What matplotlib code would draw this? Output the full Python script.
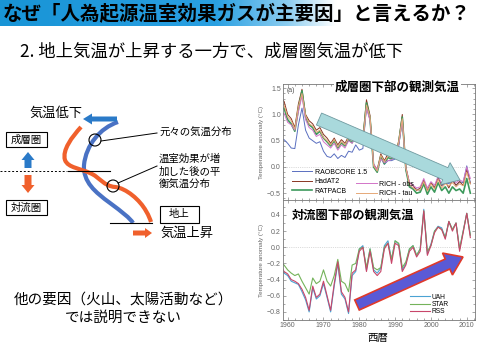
import matplotlib
matplotlib.use("Agg")
import matplotlib.pyplot as plt
import numpy as np
from matplotlib.patches import FancyArrow, Circle, Rectangle, PathPatch
from matplotlib.path import Path
from matplotlib.colors import LinearSegmentedColormap
from matplotlib.ticker import MultipleLocator

plt.rcParams['font.family'] = ['Noto Sans CJK JP', 'DejaVu Sans']

# ---- data (annual anomalies) ----
years = list(range(1958, 2012))

strat_names = ["RAOBCORE 1.5", "HadAT2", "RATPACB", "RICH - obs", "RICH - tau"]
strat_colors = ["#5a6fc0", "#8a3522", "#3d9a5c", "#d274c8", "#e6a978"]
raobcore = [0.50, 0.52, 0.45, 0.36, 0.35, 0.80, 1.12, 0.70, 0.55, 0.50,
            0.45, 0.48, 0.30, 0.20, 0.18, 0.25, 0.16, 0.22, 0.18, 0.30,
            0.28, 0.42, 0.32, 0.35, 1.15, 0.90, 0.00, -0.10, 0.18, 0.05,
            0.12, 0.12, 0.15, 0.40, 0.90, -0.05, -0.35, -0.40, -0.42, -0.45,
            -0.28, -0.45, -0.30, -0.40, -0.20, -0.36, -0.30, -0.32, -0.25, -0.35,
            -0.28, -0.30, 0.02, -0.30]
hadat2 = [1.30, 1.25, 1.00, 0.92, 0.75, 1.20, 1.48, 1.00, 0.88, 0.82,
          0.70, 0.75, 0.62, 0.55, 0.45, 0.55, 0.42, 0.52, 0.45, 0.58,
          0.52, 0.70, 0.60, 0.55, 1.28, 0.98, 0.05, -0.05, 0.25, 0.12,
          0.25, 0.20, 0.22, 0.50, 1.00, 0.00, -0.30, -0.35, -0.45, -0.40,
          -0.25, -0.45, -0.30, -0.40, -0.20, -0.35, -0.28, -0.40, -0.25, -0.35,
          -0.28, -0.35, -0.05, -0.32]
ratpacb = [1.10, 1.12, 0.90, 0.82, 0.68, 1.10, 1.45, 0.95, 0.80, 0.75,
           0.62, 0.68, 0.55, 0.48, 0.40, 0.50, 0.36, 0.46, 0.40, 0.52,
           0.46, 0.64, 0.52, 0.48, 1.22, 0.92, 0.00, -0.10, 0.20, 0.06,
           0.18, 0.15, 0.18, 0.45, 0.95, -0.05, -0.38, -0.42, -0.50, -0.48,
           -0.32, -0.52, -0.38, -0.48, -0.30, -0.45, -0.38, -0.50, -0.38, -0.45,
           -0.42, -0.50, -0.22, -0.50]
rich_obs = [1.00, 1.02, 0.85, 0.80, 0.70, 1.05, 1.35, 0.90, 0.75, 0.70,
            0.58, 0.62, 0.48, 0.42, 0.36, 0.45, 0.32, 0.42, 0.36, 0.50,
            0.45, 0.60, 0.50, 0.48, 1.12, 0.88, 0.05, -0.05, 0.15, 0.08,
            0.12, 0.14, 0.18, 0.42, 0.88, -0.02, -0.30, -0.35, -0.40, -0.38,
            -0.22, -0.40, -0.28, -0.35, -0.18, -0.32, -0.25, -0.30, -0.22, -0.30,
            -0.25, -0.28, 0.00, -0.22]
rich_tau = [1.20, 1.18, 0.95, 0.88, 0.72, 1.15, 1.40, 0.98, 0.82, 0.78,
            0.66, 0.70, 0.56, 0.50, 0.42, 0.52, 0.38, 0.48, 0.42, 0.55,
            0.50, 0.66, 0.56, 0.50, 1.18, 0.95, 0.02, -0.08, 0.22, 0.10,
            0.20, 0.18, 0.20, 0.48, 0.92, -0.02, -0.34, -0.40, -0.44, -0.44,
            -0.28, -0.46, -0.32, -0.42, -0.24, -0.40, -0.32, -0.36, -0.30, -0.38,
            -0.32, -0.36, -0.10, -0.32]

trop_names = ["UAH", "STAR", "RSS"]
trop_colors = ["#4ba3d3", "#74b35a", "#c8466a"]
uah = [-0.25, -0.32, -0.35, -0.42, -0.44, -0.46, -0.55, -0.65, -0.80, -0.50,
       -0.64, -0.60, -0.45, -0.62, -0.80, -0.48, -0.20, -0.58, -0.64, -0.82,
       -0.35, -0.30, -0.02, 0.02, -0.28, -0.02, -0.28, -0.32, -0.26, 0.02,
       0.08, -0.15, 0.08, 0.04, -0.28, -0.20, -0.02, 0.02, -0.10, -0.02,
       0.47, -0.08, 0.04, 0.20, 0.26, 0.24, 0.12, 0.32, 0.22, 0.30,
       -0.02, 0.20, 0.42, 0.15]
star = [-0.18, -0.22, -0.28, -0.32, -0.35, -0.33, -0.42, -0.50, -0.58, -0.38,
        -0.45, -0.42, -0.28, -0.42, -0.48, -0.35, -0.15, -0.42, -0.45, -0.55,
        -0.22, -0.20, -0.02, 0.00, -0.25, -0.02, -0.25, -0.28, -0.25, 0.00,
        0.05, -0.15, 0.08, 0.05, -0.25, -0.18, -0.02, 0.02, -0.10, -0.02,
        0.45, -0.05, 0.02, 0.20, 0.25, 0.22, 0.12, 0.32, 0.22, 0.30,
        -0.02, 0.20, 0.42, 0.15]
rss = [-0.22, -0.30, -0.33, -0.40, -0.42, -0.45, -0.52, -0.62, -0.78, -0.48,
       -0.62, -0.58, -0.42, -0.60, -0.78, -0.45, -0.18, -0.55, -0.62, -0.80,
       -0.32, -0.28, -0.05, 0.00, -0.30, -0.05, -0.30, -0.35, -0.30, -0.02,
       0.05, -0.20, 0.05, 0.02, -0.30, -0.22, -0.05, 0.00, -0.12, -0.05,
       0.45, -0.10, 0.02, 0.18, 0.25, 0.22, 0.10, 0.32, 0.20, 0.30,
       -0.05, 0.18, 0.42, 0.12]

strat_series = [raobcore, hadat2, ratpacb, rich_obs, rich_tau]
trop_series = [uah, star, rss]

TITLE = "なぜ「人為起源温室効果ガスが主要因」と言えるか？"
SUBTITLE = "2. 地上気温が上昇する一方で、成層圏気温が低下"

BLUE = "#4a72c4"
ARROW_BLUE = "#2a7ac8"
ORANGE = "#f0602c"

fig = plt.figure(figsize=(4.8, 3.45), dpi=100)

# background layer in pixel coordinates
bg = fig.add_axes([0, 0, 1, 1], zorder=0)
bg.set_xlim(0, 480)
bg.set_ylim(345, 0)
bg.axis("off")

# title bar gradient
cmap = LinearSegmentedColormap.from_list(
    "bar", [(0, "#1894d6"), (0.45, "#2aa0e2"), (0.6, "#8ccdf0"), (0.7, "#ffffff"), (1, "#ffffff")])
bg.imshow(np.linspace(0, 1, 256)[None, :], cmap=cmap, extent=[0, 480, 26, 0], aspect="auto")
bg.text(3, 13.5, TITLE, fontsize=14, weight="bold", va="center", ha="left")
bg.text(20, 52, SUBTITLE, fontsize=12.5, va="center", ha="left")

# schematic of temperature profile
M, C = Path.MOVETO, Path.CURVE4
blue_path = Path([(118, 122), (100, 128), (86, 145), (84, 165), (83, 182), (95, 192),
                  (110, 203), (122, 212), (130, 218), (133, 223)],
                 [M, C, C, C, C, C, C, C, C, C])
orange_path = Path([(81, 127), (72, 137), (62, 150), (65, 160), (68, 168), (80, 168),
                    (92, 174), (100, 178), (104, 186), (115, 187), (126, 188), (140, 200),
                    (146, 211), (149, 216), (150, 219), (151, 222)],
                   [M] + [C] * 15)
bg.add_patch(PathPatch(blue_path, fill=False, ec=BLUE, lw=3, capstyle="butt"))
bg.add_patch(PathPatch(orange_path, fill=False, ec=ORANGE, lw=3, capstyle="butt"))

bg.plot([0, 67], [171, 171], color="black", lw=0.7, ls=(0, (2, 2)))
bg.plot([68, 110], [171, 171], color="black", lw=0.8)
bg.plot([110, 152], [223, 223], color="black", lw=0.8)

bg.add_patch(FancyArrow(117, 119, -34, 0, width=5, head_width=11, head_length=9,
                        length_includes_head=True, color=ARROW_BLUE, lw=0))
bg.add_patch(FancyArrow(28, 168, 0, -16, width=7, head_width=13, head_length=8,
                        length_includes_head=True, color=ARROW_BLUE, lw=0))
bg.add_patch(FancyArrow(28, 175, 0, 18, width=7, head_width=13, head_length=8,
                        length_includes_head=True, color=ORANGE, lw=0))
bg.add_patch(FancyArrow(133, 233, 19, 0, width=5, head_width=10, head_length=7,
                        length_includes_head=True, color=ORANGE, lw=0))

bg.add_patch(Circle((95, 140), 6, fill=False, ec="black", lw=0.8))
bg.add_patch(Circle((113, 186), 6, fill=False, ec="black", lw=0.8))
bg.plot([101, 157], [141, 133], color="black", lw=0.7)
bg.plot([118, 157], [183, 166], color="black", lw=0.7)

for (x, y, w, h), label in [((6, 132, 41, 15), "成層圏"), ((6, 200, 41, 15), "対流圏"),
                            ((160, 206, 39, 17), "地上")]:
    bg.add_patch(Rectangle((x, y), w, h, fc="white", ec="black", lw=0.8))
    bg.text(x + w / 2, y + h / 2, label, fontsize=7.5, ha="center", va="center")

bg.text(56, 113, "気温低下", fontsize=9.5, ha="center", va="center")
bg.text(160, 233, "気温上昇", fontsize=9.5, ha="left", va="center")
bg.text(159, 133, "元々の気温分布", fontsize=7.5, ha="left", va="center")
bg.text(159, 154, "温室効果が増\n加した後の平\n衡気温分布", fontsize=7.5, ha="left", va="top",
        linespacing=1.3)

bg.text(123, 300, "他の要因（火山、太陽活動など）", fontsize=10.5, ha="center", va="center")
bg.text(123, 318, "では説明できない", fontsize=10.5, ha="center", va="center")

# ---- observed temperature charts ----
ax1 = fig.add_axes([283 / 480, 1 - 200 / 345, 192 / 480, 116 / 345], zorder=2)
ax2 = fig.add_axes([283 / 480, 1 - 320 / 345, 192 / 480, 120 / 345], zorder=2)

for name, color, vals in zip(strat_names, strat_colors, strat_series):
    ax1.plot(years, vals, color=color, lw=1.2 if name == "RATPACB" else 0.7, label=name)
for name, color, vals in zip(trop_names, trop_colors, trop_series):
    ax2.plot(years, vals, color=color, lw=0.8, label=name)

ax1.set_ylim(-0.63, 1.58)
ax2.set_ylim(-0.9, 0.585)
ax1.yaxis.set_major_locator(MultipleLocator(0.5))
ax1.yaxis.set_minor_locator(MultipleLocator(0.1))
ax2.yaxis.set_major_locator(MultipleLocator(0.2))
ax2.yaxis.set_minor_locator(MultipleLocator(0.1))
ax1.yaxis.set_major_formatter("{x:.1f}")
ax2.yaxis.set_major_formatter("{x:.1f}")

for ax in (ax1, ax2):
    ax.set_xlim(1958.7, 2012.3)
    ax.xaxis.set_major_locator(MultipleLocator(10))
    ax.xaxis.set_minor_locator(MultipleLocator(2))
    ax.axhline(0, color="#bbbbbb", lw=0.5, ls=":", zorder=0)
    ax.tick_params(which="both", direction="in", top=True, right=True, width=0.4,
                   colors="#666666", labelsize=5, pad=1.5)
    ax.tick_params(which="major", length=2.5)
    ax.tick_params(which="minor", length=1.2)
    for lab in ax.get_xticklabels() + ax.get_yticklabels():
        lab.set_family("Liberation Sans")
    for sp in ax.spines.values():
        sp.set_color("#777777")
        sp.set_linewidth(0.6)
    ax.set_ylabel("Temperature anomaly (°C)", fontsize=4.5, color="#666666",
                  family="Liberation Sans", labelpad=2)

ax1.tick_params(labelbottom=False)
ax1.text(0.02, 0.975, "(a)", transform=ax1.transAxes, fontsize=5, color="#555555",
         va="top", family="Liberation Sans")

h1 = ax1.get_lines()
leg1 = ax1.legend(handles=h1[:3], loc="upper left", bbox_to_anchor=(0.045, 0.27),
                  frameon=False, handlelength=3, handletextpad=0.3,
                  labelspacing=0.35, borderpad=0, borderaxespad=0,
                  prop={"family": "Liberation Sans", "size": 5})
ax1.add_artist(leg1)
ax1.legend(handles=h1[3:], loc="upper left", bbox_to_anchor=(0.38, 0.165),
           frameon=False, handlelength=3, handletextpad=0.3,
           labelspacing=0.35, borderpad=0, borderaxespad=0,
           prop={"family": "Liberation Sans", "size": 5})
ax2.legend(loc="upper left", bbox_to_anchor=(0.66, 0.22), frameon=False,
           handlelength=3, handletextpad=0.3, labelspacing=0.05, borderpad=0,
           borderaxespad=0, prop={"family": "Liberation Sans", "size": 4.8})

# front layer: trend arrows and panel titles
fg = fig.add_axes([0, 0, 1, 1], zorder=3)
fg.set_xlim(0, 480)
fg.set_ylim(345, 0)
fg.patch.set_alpha(0)
fg.axis("off")
fg.add_patch(FancyArrow(319, 119, 141, 61, width=13, head_width=24, head_length=16,
                        length_includes_head=True, fc="#a9d9dc", ec="#6f9aa0", lw=0.6))
fg.add_patch(FancyArrow(357, 305, 106, -48, width=11, head_width=24, head_length=17,
                        length_includes_head=True, fc="#5a5ad6", ec="#e0392a", lw=1.2))
fg.text(335, 87, "成層圏下部の観測気温", fontsize=9, weight="bold", ha="left", va="center",
        bbox=dict(fc="white", ec="none", pad=0.5))
fg.text(292, 215, "対流圏下部の観測気温", fontsize=8.8, weight="bold", ha="left", va="center")
fg.text(378, 338.5, "西暦", fontsize=7.5, ha="center", va="center")

fig.savefig("out.png", dpi=100)
